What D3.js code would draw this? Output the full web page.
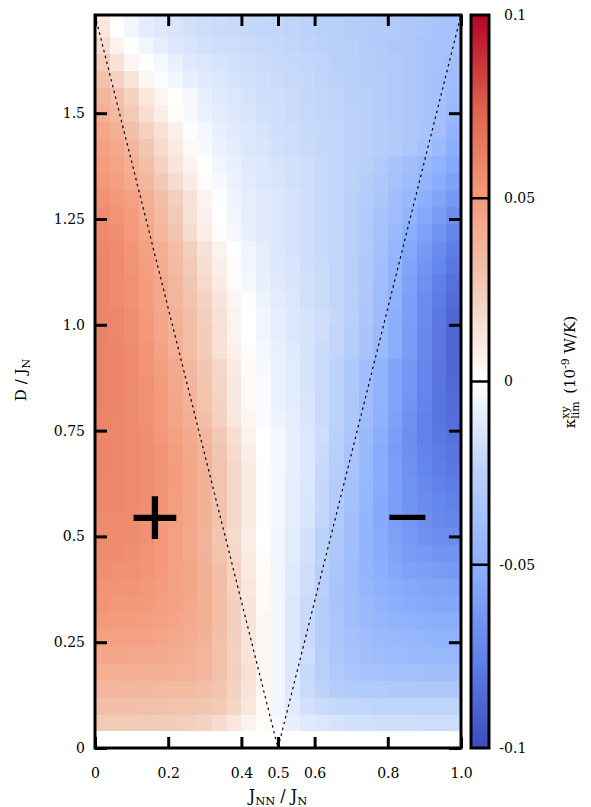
<!DOCTYPE html>
<html>
<head>
<meta charset="utf-8">
<script src="https://cdn.jsdelivr.net/npm/d3@7"></script>
<style>
  body { margin: 0; background: #fff; }
  text { font-family: "DejaVu Serif", serif; fill: #000; }
</style>
</head>
<body>
<script>

// J_NN / J_N : left edge of every column of cells
var jnn = [0, 0.04, 0.08, 0.12, 0.16, 0.2, 0.24, 0.28, 0.32, 0.36, 0.4, 0.44, 0.48,
           0.52, 0.56, 0.6, 0.64, 0.68, 0.72, 0.76, 0.8, 0.84, 0.88, 0.92, 0.96]

// D / J_N : lower edge of every row of cells
var dmi = [0, 0.04, 0.08, 0.12, 0.16, 0.2, 0.24, 0.28, 0.32, 0.36, 0.4, 0.44, 0.48, 0.52,
           0.56, 0.6, 0.64, 0.68, 0.72, 0.76, 0.8, 0.84, 0.88, 0.92, 0.96, 1.0, 1.04, 1.08,
           1.12, 1.16, 1.2, 1.24, 1.28, 1.32, 1.36, 1.4, 1.44, 1.48, 1.52, 1.56, 1.6, 1.64,
           1.68, 1.72]

// kappa^xy_lim, one row per D value, in units of 0.001 x 10^-9 W/K
var kappa = [
  [0,0,0,0,0,0,0,0,0,0,0,0,0,0,0,0,0,0,0,0,0,0,0,0,0],
  [25,25,25,25,24,24,23,21,17,12,6,2,-3,-8,-11,-13,-15,-16,-16,-17,-17,-17,-18,-18,-18],
  [31,31,31,30,30,29,28,27,25,20,12,3,-5,-11,-16,-19,-21,-22,-22,-23,-23,-23,-23,-23,-23],
  [36,36,35,35,34,34,33,32,28,22,13,4,-5,-12,-19,-24,-27,-29,-30,-30,-31,-31,-31,-31,-31],
  [40,40,40,39,39,38,37,35,30,23,15,4,-5,-12,-20,-26,-30,-33,-35,-36,-37,-37,-38,-38,-38],
  [44,44,43,43,42,41,39,36,30,22,13,4,-5,-12,-18,-26,-32,-36,-38,-40,-41,-42,-43,-43,-44],
  [47,47,46,46,45,43,41,38,31,23,13,4,-5,-12,-19,-27,-33,-37,-40,-42,-44,-45,-46,-47,-47],
  [50,49,49,48,47,45,42,39,32,23,13,4,-5,-12,-19,-27,-33,-38,-42,-45,-47,-49,-50,-51,-51],
  [52,51,51,50,48,46,43,39,32,23,13,3,-5,-12,-19,-27,-34,-39,-43,-47,-50,-52,-54,-55,-55],
  [53,53,52,51,49,47,44,39,32,22,12,3,-5,-11,-18,-26,-34,-40,-45,-49,-52,-54,-56,-57,-58],
  [55,54,54,52,50,47,44,39,31,21,10,2,-5,-11,-17,-25,-33,-40,-46,-51,-55,-58,-60,-61,-62],
  [56,56,55,53,51,47,43,38,29,19,9,1,-5,-10,-16,-24,-32,-39,-46,-52,-57,-61,-63,-65,-66],
  [57,57,56,54,51,47,43,37,28,18,8,0,-5,-10,-16,-24,-31,-38,-46,-52,-58,-63,-67,-69,-70],
  [57,57,56,54,51,48,44,38,29,19,9,1,-4,-9,-14,-22,-30,-38,-46,-53,-59,-64,-68,-71,-73],
  [58,58,57,55,52,48,44,38,29,19,9,1,-4,-9,-14,-21,-29,-37,-45,-53,-60,-66,-70,-73,-75],
  [58,58,57,55,52,49,44,38,29,19,9,1,-4,-9,-13,-21,-28,-36,-44,-52,-60,-66,-71,-75,-77],
  [59,58,57,55,52,49,44,38,29,19,9,1,-4,-8,-13,-20,-27,-35,-43,-52,-60,-67,-73,-77,-79],
  [59,58,57,55,52,48,43,37,28,18,8,0,-4,-8,-13,-19,-26,-34,-43,-52,-61,-68,-74,-78,-81],
  [59,58,57,55,51,47,42,35,26,16,6,0,-4,-8,-13,-18,-25,-33,-42,-51,-60,-68,-75,-80,-83],
  [59,58,57,54,50,45,39,31,22,12,4,-2,-6,-9,-14,-19,-24,-32,-40,-49,-58,-67,-75,-81,-84],
  [60,59,57,54,50,44,37,29,21,11,3,-2,-7,-10,-14,-19,-24,-31,-40,-48,-57,-65,-74,-81,-85],
  [60,59,57,54,49,43,36,28,20,11,3,-2,-7,-10,-15,-19,-24,-31,-39,-47,-56,-64,-73,-81,-86],
  [60,59,57,53,48,42,35,27,19,10,2,-3,-7,-10,-15,-19,-24,-31,-39,-47,-56,-64,-73,-81,-87],
  [60,59,56,52,46,39,32,24,15,7,1,-4,-8,-11,-15,-19,-22,-27,-34,-42,-51,-61,-71,-80,-88],
  [60,58,55,51,45,39,32,24,15,6,0,-5,-9,-12,-15,-18,-22,-27,-34,-42,-51,-61,-71,-80,-88],
  [59,58,55,50,44,38,31,23,14,6,0,-5,-9,-12,-15,-18,-21,-26,-33,-41,-50,-60,-70,-79,-87],
  [59,57,54,49,43,36,29,21,13,5,-1,-6,-10,-13,-16,-19,-22,-26,-32,-40,-49,-59,-69,-78,-85],
  [59,57,54,49,43,35,27,18,9,2,-4,-8,-11,-14,-16,-19,-22,-26,-31,-39,-48,-58,-67,-76,-83],
  [59,57,53,48,41,33,25,16,8,1,-5,-9,-12,-14,-17,-19,-22,-26,-31,-38,-47,-56,-65,-73,-80],
  [58,56,52,47,40,32,23,14,6,0,-5,-9,-12,-15,-17,-20,-22,-26,-30,-37,-45,-54,-62,-70,-77],
  [57,55,50,44,36,27,17,8,1,-4,-8,-11,-13,-15,-17,-20,-22,-26,-30,-36,-43,-51,-58,-66,-73],
  [56,53,49,42,34,25,15,7,0,-5,-9,-11,-13,-15,-17,-20,-22,-25,-29,-34,-40,-47,-54,-61,-68],
  [54,51,47,40,32,23,14,6,-1,-6,-9,-11,-13,-15,-17,-20,-22,-25,-28,-33,-38,-44,-50,-57,-63],
  [51,48,42,35,26,17,9,2,-3,-7,-10,-12,-14,-16,-18,-20,-22,-24,-27,-31,-36,-41,-46,-52,-58],
  [49,45,39,31,22,13,6,0,-5,-8,-11,-13,-15,-16,-18,-20,-22,-24,-26,-30,-34,-38,-43,-48,-54],
  [47,43,36,27,18,10,3,-3,-7,-10,-12,-14,-16,-18,-19,-21,-22,-24,-25,-27,-29,-32,-36,-42,-50],
  [44,39,31,22,14,7,1,-4,-8,-11,-13,-15,-17,-18,-20,-21,-22,-24,-25,-27,-29,-31,-34,-38,-46],
  [40,34,25,16,8,2,-3,-7,-10,-12,-14,-16,-17,-19,-20,-22,-23,-24,-26,-28,-30,-32,-34,-37,-43],
  [36,30,21,12,5,0,-4,-8,-11,-13,-15,-17,-18,-19,-21,-22,-23,-25,-26,-28,-30,-32,-34,-37,-41],
  [30,22,13,4,-1,-5,-8,-11,-13,-15,-16,-18,-19,-20,-21,-23,-24,-25,-27,-28,-30,-32,-34,-37,-40],
  [24,14,5,0,-4,-8,-11,-13,-15,-16,-18,-19,-20,-21,-22,-23,-25,-26,-27,-29,-30,-32,-34,-36,-38],
  [17,6,0,-5,-9,-12,-14,-16,-17,-18,-19,-20,-21,-22,-23,-24,-25,-26,-28,-29,-31,-32,-34,-36,-37],
  [12,0,-5,-10,-12,-14,-16,-18,-19,-20,-21,-22,-22,-23,-24,-25,-26,-27,-28,-29,-30,-31,-33,-35,-36],
  [8,0,-5,-9,-12,-14,-16,-17,-18,-19,-20,-21,-22,-23,-24,-25,-26,-27,-28,-29,-30,-31,-32,-34,-35]
]

var xTicks = [0, 0.2, 0.4, 0.5, 0.6, 0.8, 1.0]
var xTickLabels = ["0", "0.2", "0.4", "0.5", "0.6", "0.8", "1.0"]
var yTicks = [0, 0.25, 0.5, 0.75, 1.0, 1.25, 1.5]
var yTickLabels = ["0", "0.25", "0.5", "0.75", "1.0", "1.25", "1.5"]
var cbTicks = [-0.1, -0.05, 0, 0.05, 0.1]
var cbTickLabels = ["-0.1", "-0.05", "0", "0.05", "0.1"]

// colour palette (blue - white - red)
var paletteStops = [-0.1, -0.075, -0.05, -0.025, 0, 0.025, 0.05, 0.075, 0.1]
var paletteColors = ["#3b4cc0", "#6282ea", "#8db0fe", "#b9d0f9", "#ffffff",
                     "#f2cbb7", "#f49a7b", "#de604d", "#b40426"]

var step = 0.04
var dMax = Math.sqrt(3)

var svg = d3.select("body").append("svg")
  .attr("width", 591)
  .attr("height", 807)

var x = d3.scaleLinear().domain([0, 1]).range([95, 461])
var y = d3.scaleLinear().domain([0, dMax]).range([748, 15])
var color = d3.scaleLinear().domain(paletteStops).range(paletteColors).clamp(true)

/* HEATMAP */

svg.append("clipPath").attr("id", "plotclip")
  .append("rect")
  .attr("x", x(0)).attr("y", y(dMax))
  .attr("width", x(1) - x(0)).attr("height", y(0) - y(dMax))

var cells = []
kappa.forEach(function(row, i) {
  row.forEach(function(v, j) {
    cells.push({ d: dmi[i], j: jnn[j], v: v / 1000 })
  })
})

svg.append("g")
  .attr("clip-path", "url(#plotclip)")
  .selectAll("rect")
  .data(cells)
  .enter()
  .append("rect")
  .attr("x", function(c) { return x(c.j) })
  .attr("y", function(c) { return y(c.d + step) })
  .attr("width", function(c) { return x(c.j + step) - x(c.j) + 0.4 })
  .attr("height", function(c) { return y(c.d) - y(c.d + step) + 0.4 })
  .attr("fill", function(c) { return color(c.v) })
  .attr("shape-rendering", "crispEdges")

/* DOTTED V LINES */

var vLine = [[0, dMax], [0.5, 0], [1, dMax]]
svg.append("path")
  .attr("d", d3.line().x(function(p) { return x(p[0]) }).y(function(p) { return y(p[1]) })(vLine))
  .attr("fill", "none")
  .attr("stroke", "#000")
  .attr("stroke-width", 1.2)
  .attr("stroke-dasharray", "2.5,3.5")
  .attr("clip-path", "url(#plotclip)")

/* SIGNS */

svg.append("text")
  .attr("x", 155).attr("y", 547)
  .attr("text-anchor", "middle")
  .style("font-family", "'Liberation Sans', Arial, sans-serif")
  .attr("font-size", 88)
  .text("+")

svg.append("text")
  .attr("x", 407).attr("y", 542)
  .attr("text-anchor", "middle")
  .style("font-family", "'Liberation Sans', Arial, sans-serif")
  .attr("font-size", 74)
  .text("\u2212")

/* AXES */

function styleAxis(g) {
  g.select(".domain").remove()
  g.selectAll(".tick line").attr("stroke", "#000").attr("stroke-width", 3)
  g.selectAll(".tick text")
    .attr("font-family", "DejaVu Serif, serif")
    .attr("font-size", 14)
    .attr("fill", "#000")
}

svg.append("g")
  .attr("transform", "translate(0," + y(0) + ")")
  .call(d3.axisBottom(x).tickValues(xTicks)
    .tickFormat(function(d, i) { return xTickLabels[i] })
    .tickSizeInner(-11).tickSizeOuter(0).tickPadding(20))
  .call(styleAxis)

svg.append("g")
  .attr("transform", "translate(0," + y(dMax) + ")")
  .call(d3.axisTop(x).tickValues(xTicks).tickFormat("")
    .tickSizeInner(-11).tickSizeOuter(0))
  .call(styleAxis)

svg.append("g")
  .attr("transform", "translate(" + x(0) + ",0)")
  .call(d3.axisLeft(y).tickValues(yTicks)
    .tickFormat(function(d, i) { return yTickLabels[i] })
    .tickSizeInner(-12).tickSizeOuter(0).tickPadding(10))
  .call(styleAxis)

svg.append("g")
  .attr("transform", "translate(" + x(1) + ",0)")
  .call(d3.axisRight(y).tickValues(yTicks).tickFormat("")
    .tickSizeInner(-12).tickSizeOuter(0))
  .call(styleAxis)

svg.append("rect")
  .attr("x", x(0)).attr("y", y(dMax))
  .attr("width", x(1) - x(0)).attr("height", y(0) - y(dMax))
  .attr("fill", "none")
  .attr("stroke", "#000")
  .attr("stroke-width", 3)

/* COLOUR BAR */

var cbLeft = 471, cbRight = 489
var yc = d3.scaleLinear().domain([-0.1, 0.1]).range([748, 15])

var grad = svg.append("defs").append("linearGradient")
  .attr("id", "cbgrad")
  .attr("x1", 0).attr("y1", 1).attr("x2", 0).attr("y2", 0)

grad.selectAll("stop")
  .data(paletteStops)
  .enter()
  .append("stop")
  .attr("offset", function(d) { return (d + 0.1) / 0.2 })
  .attr("stop-color", function(d, i) { return paletteColors[i] })

svg.append("rect")
  .attr("x", cbLeft).attr("y", yc(0.1))
  .attr("width", cbRight - cbLeft).attr("height", yc(-0.1) - yc(0.1))
  .attr("fill", "url(#cbgrad)")

svg.selectAll("line.cbtick")
  .data([-0.05, 0, 0.05])
  .enter()
  .append("line")
  .attr("class", "cbtick")
  .attr("x1", cbLeft).attr("x2", cbRight)
  .attr("y1", function(d) { return yc(d) })
  .attr("y2", function(d) { return yc(d) })
  .attr("stroke", "#000")
  .attr("stroke-width", 2.5)

svg.append("rect")
  .attr("x", cbLeft).attr("y", yc(0.1))
  .attr("width", cbRight - cbLeft).attr("height", yc(-0.1) - yc(0.1))
  .attr("fill", "none")
  .attr("stroke", "#000")
  .attr("stroke-width", 3)

svg.append("g")
  .attr("transform", "translate(" + cbRight + ",0)")
  .call(d3.axisRight(yc).tickValues(cbTicks)
    .tickFormat(function(d, i) { return cbTickLabels[i] })
    .tickSize(0).tickPadding(15))
  .call(styleAxis)
  .selectAll(".tick text")
  .attr("dx", function(d) { return d < 0 ? -4.7 : 0 })

/* AXIS TITLES */

var xTitle = svg.append("text")
  .attr("x", 278).attr("y", 801)
  .attr("text-anchor", "middle")
  .attr("font-size", 16)
xTitle.append("tspan").text("J")
xTitle.append("tspan").attr("font-size", 11.5).attr("dy", 4).text("NN")
xTitle.append("tspan").attr("dy", -4).text(" / J")
xTitle.append("tspan").attr("font-size", 11.5).attr("dy", 4).text("N")

var yTitle = svg.append("text")
  .attr("transform", "translate(26,380) rotate(-90)")
  .attr("text-anchor", "middle")
  .attr("font-size", 15)
yTitle.append("tspan").text("D / J")
yTitle.append("tspan").attr("font-size", 11).attr("dy", 4).text("N")

var cbTitle = svg.append("text")
  .attr("transform", "translate(575,372) rotate(-90)")
  .attr("text-anchor", "middle")
  .attr("font-size", 15)
cbTitle.append("tspan").text("\u03ba")
var sup = cbTitle.append("tspan").attr("font-size", 11).attr("dy", -6).text("xy")
var supW = sup.node().getComputedTextLength()
cbTitle.append("tspan").attr("font-size", 11).attr("dy", 10).attr("dx", -supW).text("lim")
cbTitle.append("tspan").attr("dy", -4).text("\u2002(10")
cbTitle.append("tspan").attr("font-size", 11).attr("dy", -6).text("-9")
cbTitle.append("tspan").attr("dy", 6).text(" W/K)")

</script>
</body>
</html>
